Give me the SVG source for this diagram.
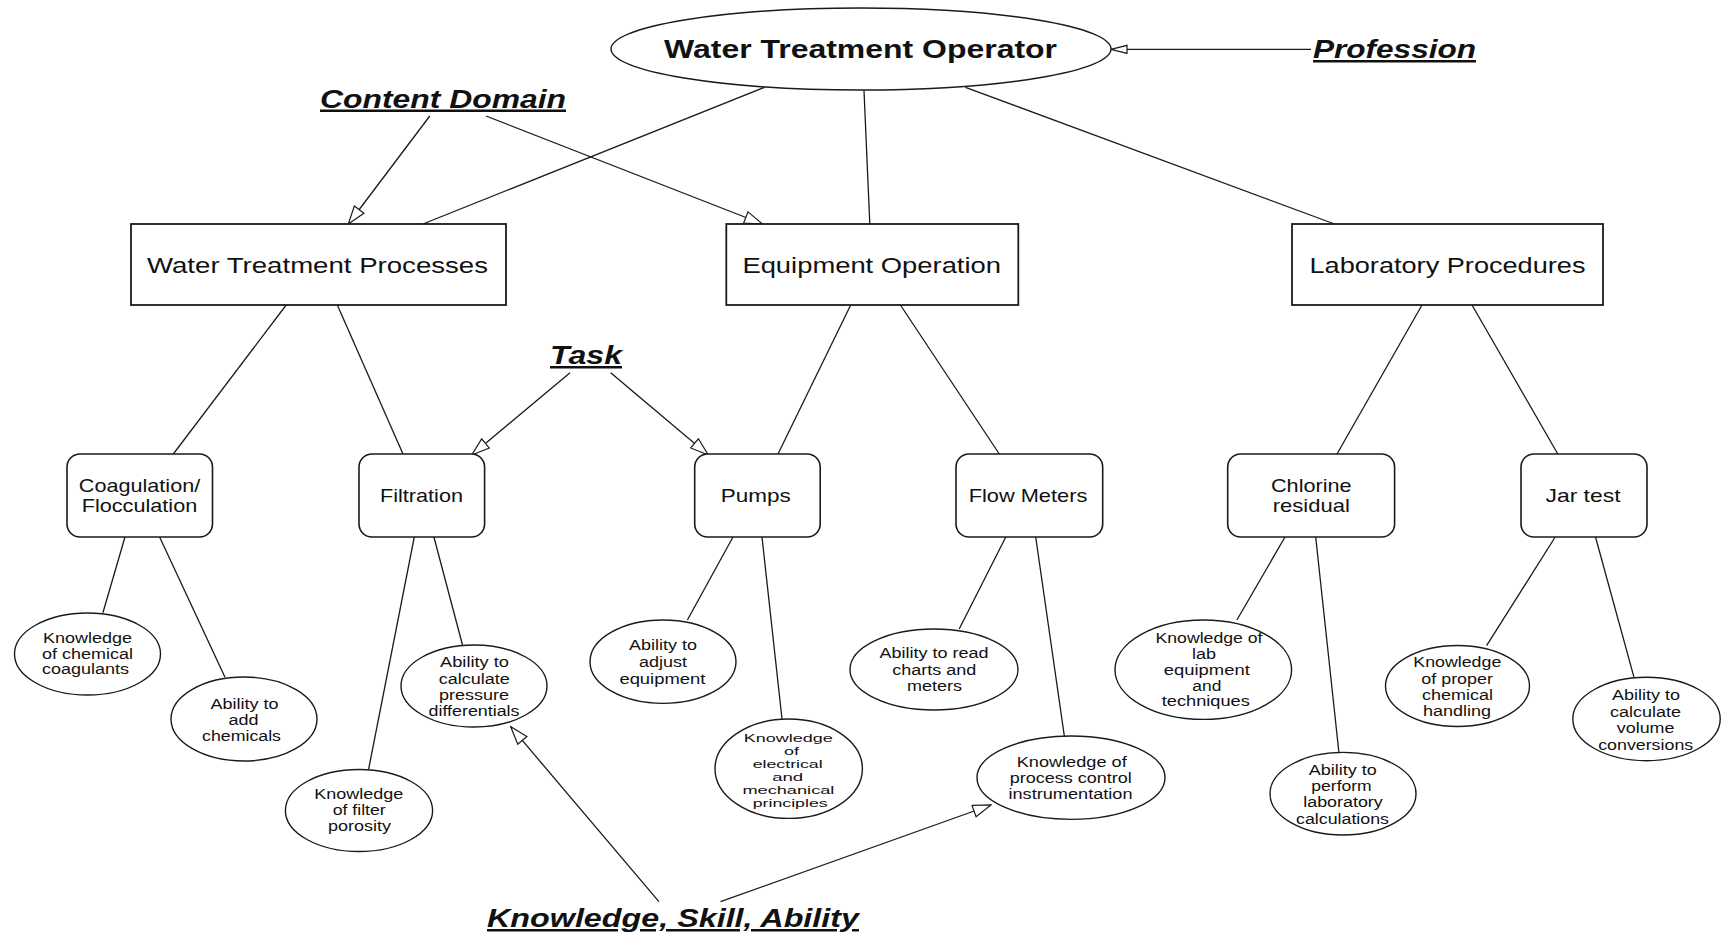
<svg xmlns="http://www.w3.org/2000/svg" width="1725" height="933" viewBox="0 0 1725 933">
<defs>
<style>
.ln{stroke:#1a1a1a;stroke-width:1.3;fill:none}
.box{fill:#fff;stroke:#1a1a1a;stroke-width:1.8}
.rb{fill:#fff;stroke:#1a1a1a;stroke-width:1.6}
.el{fill:#fff;stroke:#1a1a1a;stroke-width:1.4}
text{font-family:"Liberation Sans",Arial,sans-serif;fill:#111}
.ttl{font-size:25px;font-weight:bold;font-style:italic;text-decoration:underline}
.top{font-size:25px;font-weight:bold;text-anchor:middle}
.bt{font-size:22px;text-anchor:middle}
.st{font-size:18.5px;text-anchor:middle}
.et{font-size:14px;text-anchor:middle}
.es{font-size:11.2px;text-anchor:middle}
</style>
<marker id="arr" markerUnits="userSpaceOnUse" markerWidth="20" markerHeight="14" refX="19" refY="7" orient="auto">
<path d="M1,1 L19,7 L1,13 z" fill="#fff" stroke="#1a1a1a" stroke-width="1.2"/>
</marker>
<marker id="arrs" markerUnits="userSpaceOnUse" markerWidth="18" markerHeight="10" refX="17" refY="5" orient="auto">
<path d="M1,1 L17,5 L1,9 z" fill="#fff" stroke="#1a1a1a" stroke-width="1.2"/>
</marker>
</defs>
<rect width="1725" height="933" fill="#fff"/>

<g id="connectors">
<line class="ln" x1="764.6" y1="87.3" x2="422.9" y2="224"/>
<line class="ln" x1="864" y1="90.5" x2="869.8" y2="224"/>
<line class="ln" x1="965.5" y1="87.3" x2="1334.5" y2="224"/>
<line class="ln" x1="286.2" y1="305" x2="173.3" y2="454"/>
<line class="ln" x1="337.3" y1="305" x2="403" y2="454"/>
<line class="ln" x1="850.7" y1="305" x2="778" y2="454"/>
<line class="ln" x1="900.4" y1="305" x2="999.3" y2="454"/>
<line class="ln" x1="1422" y1="305" x2="1337" y2="454"/>
<line class="ln" x1="1472" y1="305" x2="1557.8" y2="454"/>
<line class="ln" x1="125" y1="537" x2="102.9" y2="612.7"/>
<line class="ln" x1="159.6" y1="537" x2="225" y2="677.3"/>
<line class="ln" x1="414.3" y1="537" x2="368.6" y2="769.3"/>
<line class="ln" x1="433.9" y1="537" x2="462.5" y2="645"/>
<line class="ln" x1="733" y1="537" x2="687.4" y2="620"/>
<line class="ln" x1="762" y1="537" x2="782" y2="719"/>
<line class="ln" x1="1005.8" y1="537" x2="959.2" y2="629"/>
<line class="ln" x1="1035.7" y1="537" x2="1064.4" y2="736.5"/>
<line class="ln" x1="1285" y1="537" x2="1236.9" y2="620"/>
<line class="ln" x1="1315.7" y1="537" x2="1338.9" y2="752.3"/>
<line class="ln" x1="1555.2" y1="537" x2="1486.6" y2="645.7"/>
<line class="ln" x1="1595.5" y1="537" x2="1634" y2="677.3"/>
<line class="ln" x1="1311" y1="49.3" x2="1111" y2="49.3" marker-end="url(#arrs)"/>
<line class="ln" x1="429.8" y1="116" x2="348.3" y2="224" marker-end="url(#arr)"/>
<line class="ln" x1="486" y1="116" x2="762.6" y2="224" marker-end="url(#arr)"/>
<line class="ln" x1="570" y1="372.7" x2="471.7" y2="455" marker-end="url(#arr)"/>
<line class="ln" x1="610.7" y1="372.7" x2="708.3" y2="455" marker-end="url(#arr)"/>
<line class="ln" x1="658.9" y1="901.7" x2="510.7" y2="726.7" marker-end="url(#arr)"/>
<line class="ln" x1="720.5" y1="901.7" x2="991" y2="805" marker-end="url(#arr)"/>
</g>

<g id="label-profession"><text class="ttl" x="1313" y="58" textLength="163" lengthAdjust="spacingAndGlyphs">Profession</text></g>
<g id="label-content-domain"><text class="ttl" x="320" y="107.5" textLength="246" lengthAdjust="spacingAndGlyphs">Content Domain</text></g>
<g id="label-task"><text class="ttl" x="550" y="364" textLength="72" lengthAdjust="spacingAndGlyphs">Task</text></g>
<g id="label-ksa"><text class="ttl" x="487" y="927" textLength="372" lengthAdjust="spacingAndGlyphs">Knowledge, Skill, Ability</text></g>

<g id="water-treatment-operator">
<ellipse class="el" cx="861" cy="49" rx="250" ry="41"/>
<text class="top" x="860.5" y="58" textLength="393" lengthAdjust="spacingAndGlyphs">Water Treatment Operator</text>
</g>

<g id="water-treatment-processes">
<rect class="box" x="131" y="224" width="375" height="81"/>
<text class="bt" x="317.5" y="273" textLength="341" lengthAdjust="spacingAndGlyphs">Water Treatment Processes</text>
</g>
<g id="equipment-operation">
<rect class="box" x="726.3" y="224" width="292" height="81"/>
<text class="bt" x="871.7" y="273" textLength="258.6" lengthAdjust="spacingAndGlyphs">Equipment Operation</text>
</g>
<g id="laboratory-procedures">
<rect class="box" x="1292" y="224" width="311" height="81"/>
<text class="bt" x="1447.5" y="273" textLength="276" lengthAdjust="spacingAndGlyphs">Laboratory Procedures</text>
</g>

<g id="coagulation">
<rect class="rb" x="67" y="454" width="145.5" height="83" rx="13"/>
<text class="st" x="139.5" y="491.7" textLength="121.4" lengthAdjust="spacingAndGlyphs">Coagulation/</text>
<text class="st" x="139.5" y="511.7" textLength="115.6" lengthAdjust="spacingAndGlyphs">Flocculation</text>
</g>
<g id="filtration">
<rect class="rb" x="359" y="454" width="125.6" height="83" rx="13"/>
<text class="st" x="421.5" y="501.7" textLength="83" lengthAdjust="spacingAndGlyphs">Filtration</text>
</g>
<g id="pumps">
<rect class="rb" x="694.7" y="454" width="125.5" height="83" rx="13"/>
<text class="st" x="755.7" y="501.7" textLength="70" lengthAdjust="spacingAndGlyphs">Pumps</text>
</g>
<g id="flow-meters">
<rect class="rb" x="956" y="454" width="146.7" height="83" rx="13"/>
<text class="st" x="1028" y="501.7" textLength="118.7" lengthAdjust="spacingAndGlyphs">Flow Meters</text>
</g>
<g id="chlorine-residual">
<rect class="rb" x="1227.7" y="454" width="166.9" height="83" rx="13"/>
<text class="st" x="1311.3" y="491.7" textLength="80.7" lengthAdjust="spacingAndGlyphs">Chlorine</text>
<text class="st" x="1311.3" y="511.7" textLength="77" lengthAdjust="spacingAndGlyphs">residual</text>
</g>
<g id="jar-test">
<rect class="rb" x="1521" y="454" width="126" height="83" rx="13"/>
<text class="st" x="1583" y="501.7" textLength="75" lengthAdjust="spacingAndGlyphs">Jar test</text>
</g>

<g id="ksa-chemical-coagulants">
<ellipse class="el" cx="87.5" cy="654" rx="73" ry="41"/>
<text class="et" x="87.5" y="643" textLength="89" lengthAdjust="spacingAndGlyphs">Knowledge</text>
<text class="et" x="87.5" y="658.5" textLength="91" lengthAdjust="spacingAndGlyphs">of chemical</text>
<text class="et" x="85.5" y="674" textLength="87" lengthAdjust="spacingAndGlyphs">coagulants</text>
</g>
<g id="ksa-add-chemicals">
<ellipse class="el" cx="244" cy="719" rx="73" ry="42"/>
<text class="et" x="244.5" y="708.5" textLength="68" lengthAdjust="spacingAndGlyphs">Ability to</text>
<text class="et" x="243.5" y="724.5" textLength="30" lengthAdjust="spacingAndGlyphs">add</text>
<text class="et" x="241.5" y="740.5" textLength="79" lengthAdjust="spacingAndGlyphs">chemicals</text>
</g>
<g id="ksa-pressure-differentials">
<ellipse class="el" cx="474" cy="686" rx="73" ry="41"/>
<text class="et" x="474.5" y="667" textLength="69" lengthAdjust="spacingAndGlyphs">Ability to</text>
<text class="et" x="474.3" y="683.5" textLength="71" lengthAdjust="spacingAndGlyphs">calculate</text>
<text class="et" x="474" y="699.5" textLength="70" lengthAdjust="spacingAndGlyphs">pressure</text>
<text class="et" x="474" y="715.5" textLength="91" lengthAdjust="spacingAndGlyphs">differentials</text>
</g>
<g id="ksa-filter-porosity">
<ellipse class="el" cx="359" cy="810.5" rx="73.6" ry="41"/>
<text class="et" x="358.8" y="798.5" textLength="89" lengthAdjust="spacingAndGlyphs">Knowledge</text>
<text class="et" x="359.2" y="815" textLength="53" lengthAdjust="spacingAndGlyphs">of filter</text>
<text class="et" x="359.4" y="831" textLength="63" lengthAdjust="spacingAndGlyphs">porosity</text>
</g>
<g id="ksa-adjust-equipment">
<ellipse class="el" cx="663" cy="661.7" rx="73" ry="41.7"/>
<text class="et" x="663" y="649.5" textLength="68" lengthAdjust="spacingAndGlyphs">Ability to</text>
<text class="et" x="663" y="666.5" textLength="48" lengthAdjust="spacingAndGlyphs">adjust</text>
<text class="et" x="662.4" y="683.5" textLength="86" lengthAdjust="spacingAndGlyphs">equipment</text>
</g>
<g id="ksa-electrical-mechanical">
<ellipse class="el" cx="788.7" cy="768.7" rx="73.7" ry="49.7"/>
<text class="es" x="788.3" y="741.5" textLength="89" lengthAdjust="spacingAndGlyphs">Knowledge</text>
<text class="es" x="791.5" y="754.5" textLength="15" lengthAdjust="spacingAndGlyphs">of</text>
<text class="es" x="787.7" y="767.5" textLength="70" lengthAdjust="spacingAndGlyphs">electrical</text>
<text class="es" x="787.7" y="780.5" textLength="31" lengthAdjust="spacingAndGlyphs">and</text>
<text class="es" x="788.4" y="793.5" textLength="92" lengthAdjust="spacingAndGlyphs">mechanical</text>
<text class="es" x="790.2" y="806.5" textLength="75" lengthAdjust="spacingAndGlyphs">principles</text>
</g>
<g id="ksa-read-charts">
<ellipse class="el" cx="934" cy="669.5" rx="84" ry="40.5"/>
<text class="et" x="934" y="658" textLength="109" lengthAdjust="spacingAndGlyphs">Ability to read</text>
<text class="et" x="934.2" y="674.5" textLength="84" lengthAdjust="spacingAndGlyphs">charts and</text>
<text class="et" x="934.4" y="690.5" textLength="55" lengthAdjust="spacingAndGlyphs">meters</text>
</g>
<g id="ksa-process-control">
<ellipse class="el" cx="1071" cy="777.7" rx="94" ry="41.7"/>
<text class="et" x="1071.7" y="766.5" textLength="110" lengthAdjust="spacingAndGlyphs">Knowledge of</text>
<text class="et" x="1070.8" y="782.5" textLength="122" lengthAdjust="spacingAndGlyphs">process control</text>
<text class="et" x="1070.5" y="798.5" textLength="124" lengthAdjust="spacingAndGlyphs">instrumentation</text>
</g>
<g id="ksa-lab-equipment">
<ellipse class="el" cx="1203.3" cy="669.7" rx="88.3" ry="49.7"/>
<text class="et" x="1209" y="643" textLength="107" lengthAdjust="spacingAndGlyphs">Knowledge of</text>
<text class="et" x="1204" y="659" textLength="24" lengthAdjust="spacingAndGlyphs">lab</text>
<text class="et" x="1206.8" y="675" textLength="86" lengthAdjust="spacingAndGlyphs">equipment</text>
<text class="et" x="1206.8" y="690.5" textLength="29" lengthAdjust="spacingAndGlyphs">and</text>
<text class="et" x="1205.8" y="706" textLength="88" lengthAdjust="spacingAndGlyphs">techniques</text>
</g>
<g id="ksa-lab-calculations">
<ellipse class="el" cx="1343" cy="793.7" rx="73" ry="41.3"/>
<text class="et" x="1342.7" y="774.5" textLength="68" lengthAdjust="spacingAndGlyphs">Ability to</text>
<text class="et" x="1341.5" y="791" textLength="60.5" lengthAdjust="spacingAndGlyphs">perform</text>
<text class="et" x="1343" y="807" textLength="79.5" lengthAdjust="spacingAndGlyphs">laboratory</text>
<text class="et" x="1342.5" y="823.5" textLength="93" lengthAdjust="spacingAndGlyphs">calculations</text>
</g>
<g id="ksa-chemical-handling">
<ellipse class="el" cx="1457.5" cy="686" rx="72" ry="40.5"/>
<text class="et" x="1457.3" y="667" textLength="88" lengthAdjust="spacingAndGlyphs">Knowledge</text>
<text class="et" x="1457.1" y="683.5" textLength="71.6" lengthAdjust="spacingAndGlyphs">of proper</text>
<text class="et" x="1457.5" y="699.5" textLength="71" lengthAdjust="spacingAndGlyphs">chemical</text>
<text class="et" x="1457.1" y="715.5" textLength="68" lengthAdjust="spacingAndGlyphs">handling</text>
</g>
<g id="ksa-volume-conversions">
<ellipse class="el" cx="1646.5" cy="719" rx="73.7" ry="41.7"/>
<text class="et" x="1646" y="699.5" textLength="68" lengthAdjust="spacingAndGlyphs">Ability to</text>
<text class="et" x="1645.6" y="716.5" textLength="71" lengthAdjust="spacingAndGlyphs">calculate</text>
<text class="et" x="1645.6" y="733" textLength="57.6" lengthAdjust="spacingAndGlyphs">volume</text>
<text class="et" x="1645.7" y="749.5" textLength="95" lengthAdjust="spacingAndGlyphs">conversions</text>
</g>
</svg>
